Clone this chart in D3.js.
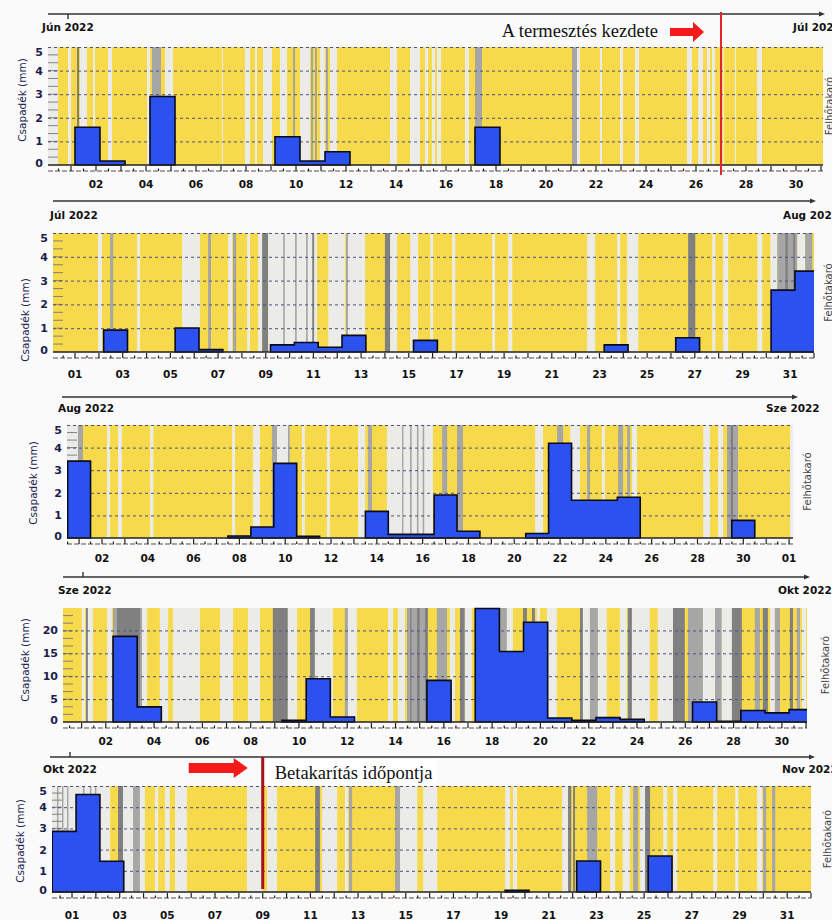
<!DOCTYPE html>
<html><head><meta charset="utf-8">
<script src="https://cdn.jsdelivr.net/npm/d3@7"></script>
<style>body{margin:0;background:#fff}svg{display:block}</style>
</head><body><svg id="c" width="832" height="920"></svg>
<script>
// ---------------- DATA ----------------
const MONTHS = ["Jún 2022", "Júl 2022", "Aug 2022", "Sze 2022", "Okt 2022"];
const NEXT_MONTHS = ["Júl 2022", "Aug 2022", "Sze 2022", "Okt 2022", "Nov 2022"];
const Y_TITLE = "Csapadék (mm)";
const CLOUD_TITLE = "Felhőtakaró";
const START_LABEL = "A termesztés kezdete";
const HARVEST_LABEL = "Betakarítás időpontja";
const START_DAY = 27;   // June 27
const HARVEST_DAY = 9;  // October 9

// Daily precipitation (mm): day of month, value
const JUN_DAYS = [1, 2, 4, 9, 10, 11, 17];
const JUN_RAIN = [1.6, 0.17, 2.9, 1.2, 0.17, 0.56, 1.6];
const JUL_DAYS = [2, 5, 6, 9, 10, 11, 12, 15, 23, 26, 30, 31];
const JUL_RAIN = [0.92, 1.01, 0.1, 0.3, 0.4, 0.2, 0.7, 0.49, 0.3, 0.6, 2.6, 3.4];
const AUG_DAYS = [0, 7, 8, 9, 10, 13, 14, 15, 16, 17, 20, 21, 22, 23, 24, 29];
const AUG_RAIN = [3.4, 0.09, 0.49, 3.3, 0.08, 1.18, 0.16, 0.16, 1.9, 0.3, 0.2, 4.19, 1.67, 1.67, 1.8, 0.78];
const SEP_DAYS = [2, 3, 9, 10, 11, 15, 17, 18, 19, 20, 21, 22, 23, 26, 27, 28, 29, 30];
const SEP_RAIN = [18.7, 3.3, 0.36, 9.45, 1.1, 9.1, 24.8, 15.4, 21.8, 0.87, 0.36, 0.95, 0.58, 4.36, 0.15, 2.5, 2.0, 2.7];
const OKT_DAYS = [0, 1, 2, 19, 22, 25];
const OKT_RAIN = [2.86, 4.6, 1.45, 0.08, 1.46, 1.7];

// Tick labels (day positions and texts)
const EVEN_DAYS = [2, 4, 6, 8, 10, 12, 14, 16, 18, 20, 22, 24, 26, 28, 30];
const ODD_DAYS = [1, 3, 5, 7, 9, 11, 13, 15, 17, 19, 21, 23, 25, 27, 29, 31];
const AUG_TICK_DAYS = [2, 4, 6, 8, 10, 12, 14, 16, 18, 20, 22, 24, 26, 28, 30, 32];
const AUG_TICK_LABELS = ["02","04","06","08","10","12","14","16","18","20","22","24","26","28","30","01"];
const Y_TICKS_SMALL = [0, 1, 2, 3, 4, 5];
const Y_TICKS_SEP = [0, 5, 10, 15, 20];

// Cloud cover stripes: [start day, end day, level] (1 light, 2 medium, 3 dark)
const JUN_CLOUD = [[0.08,0.48,1],[0.88,1.0,1],[1.24,1.32,3],[1.36,1.64,1],[1.88,1.96,1],[2.48,2.64,1],[4.04,4.16,1],[4.24,4.6,2],[4.76,5.08,1],[7.04,7.08,1],[7.96,8.16,1],[8.36,8.44,1],[8.68,9.04,1],[9.36,9.64,1],[9.88,9.96,2],[10.16,10.56,1],[10.6,10.68,2],[10.76,10.84,2],[10.96,11.16,1],[11.2,11.28,2],[11.36,11.64,1],[13.76,14.04,1],[14.56,14.96,1],[15.16,15.28,1],[15.44,15.56,1],[15.64,15.8,1],[16.76,16.92,1],[17.16,17.44,2],[21.04,21.24,2],[21.24,21.36,1],[22.16,22.24,1],[22.96,23.08,1],[23.56,23.72,1],[25.64,25.84,1],[26.08,26.28,1],[26.44,26.56,1],[26.64,26.76,1],[27.08,27.12,1],[27.56,27.6,1],[28.44,28.64,1]];
const JUL_CLOUD = [[1.96,2.13,1],[2.47,2.6,2],[3.6,3.73,1],[5.49,6.24,1],[6.58,6.7,2],[7.42,7.59,1],[7.63,7.76,2],[8.22,8.34,1],[8.68,8.85,1],[8.85,9.1,3],[9.1,11.15,1],[9.73,9.8,2],[10.23,10.3,2],[10.69,10.76,2],[10.95,11.03,3],[11.62,12.33,1],[12.37,12.45,2],[12.45,13.17,1],[14.0,14.22,3],[14.22,14.51,1],[15.06,15.39,1],[15.9,16.02,1],[16.82,16.95,1],[18.5,18.62,1],[19.17,19.34,1],[22.48,22.82,1],[23.74,23.87,1],[24.16,24.63,1],[26.72,27.02,3],[27.73,27.86,1],[28.19,28.4,1],[29.62,29.83,1],[30.17,30.46,1],[30.46,31.3,2],[30.8,30.9,3],[31.13,31.21,3],[31.3,31.63,1],[31.63,31.93,2]];
const AUG_CLOUD = [[0.47,0.95,1],[0.95,1.17,2],[2.22,2.35,1],[2.7,2.87,1],[4.1,4.24,1],[7.68,7.81,1],[8.59,8.9,1],[9.42,9.64,2],[9.64,10.2,1],[10.12,10.2,2],[10.73,10.86,1],[11.82,11.95,1],[13.18,13.49,1],[13.62,13.79,2],[14.44,16.45,1],[15.1,15.16,2],[15.45,15.52,2],[15.75,15.82,2],[16.0,16.07,2],[16.85,17.07,2],[17.5,17.76,2],[20.91,21.26,1],[21.87,22.13,2],[22.44,22.87,1],[23.18,23.31,2],[23.83,23.96,1],[24.53,24.75,2],[24.93,25.06,2],[25.14,25.36,1],[28.25,28.55,1],[28.9,29.12,1],[29.29,29.77,2],[29.45,29.55,3],[32.04,32.17,1]];
const SEP_CLOUD = [[1.01,1.14,1],[1.18,1.26,3],[1.26,1.47,1],[2.05,2.26,1],[2.3,3.5,2],[2.46,3.42,3],[3.5,3.71,1],[4.24,4.58,1],[4.78,5.9,1],[6.73,7.27,1],[7.89,8.39,1],[8.92,9.54,3],[9.54,9.92,1],[10.46,10.66,3],[10.66,11.41,1],[11.9,12.03,2],[12.03,12.4,1],[13.69,13.9,1],[14.1,14.39,1],[14.47,15.22,2],[14.6,14.66,3],[14.89,15.0,3],[15.22,15.34,3],[15.71,16.13,2],[16.25,16.46,1],[16.67,16.87,3],[16.87,17.16,1],[18.24,18.61,2],[18.61,18.86,1],[19.28,19.44,3],[19.65,19.77,3],[19.85,19.98,1],[20.27,20.68,1],[21.64,21.76,3],[21.76,22.05,1],[22.05,22.38,2],[22.38,22.75,1],[23.29,23.58,1],[23.62,23.79,3],[23.79,24.53,1],[24.86,25.49,1],[25.49,25.98,3],[26.11,26.73,2],[26.73,27.23,1],[27.23,27.51,2],[27.51,27.93,1],[27.93,28.34,3],[28.88,29.09,2],[29.21,29.42,3],[29.51,29.71,1],[29.71,29.92,2],[30.33,30.46,3],[30.62,30.75,2],[30.83,31.0,1]];
const OKT_CLOUD = [[0.08,1.0,1],[0.37,0.43,2],[0.58,0.64,2],[0.79,0.85,2],[1.0,1.33,1],[1.33,2.05,1],[1.46,1.52,2],[1.75,1.81,2],[1.96,2.02,2],[2.05,2.6,1],[2.93,3.14,3],[3.14,3.56,1],[3.56,3.85,2],[3.85,4.06,1],[4.48,4.61,1],[4.9,5.1,1],[5.32,5.82,1],[8.34,9.0,1],[9.18,9.6,1],[11.2,11.4,3],[11.49,12.12,1],[12.45,12.58,1],[12.62,12.75,2],[14.55,14.76,2],[14.76,15.48,1],[15.73,16.32,1],[19.17,19.38,1],[19.5,19.67,1],[21.56,21.81,1],[21.81,21.94,3],[22.02,22.1,3],[22.61,23.03,2],[23.57,23.78,1],[24.1,24.4,1],[24.54,24.75,2],[24.83,25.04,1],[25.04,25.25,3],[25.8,25.97,1],[26.22,26.39,1],[27.9,28.06,1],[28.82,28.95,1],[29.74,29.95,1],[29.99,30.12,2],[30.37,30.5,2]];

// ---------------- LAYOUT ----------------
const LAYOUT = [
  {left:48, right:823, top:47,  base:165, d0:0.08,  d1:31.08, ymax:5,    off:0.16, lineY:14,  lineX0:48, lineX1:822, tickX:68, tickUp:false, monthX:42, monthY:31,  nextX:793, titleX:22, titleY:100, cloudX:829, labelY:188},
  {left:53, right:814, top:233, base:352, d0:0.075, d1:32.0,  ymax:5,    off:0.2,  lineY:201, lineX0:53, lineX1:813, tickX:null, tickUp:true, monthX:50, monthY:219, nextX:783, titleX:25, titleY:320, cloudX:828, labelY:378},
  {left:67, right:793, top:425, base:538, d0:0.472, d1:32.17, ymax:5,    off:0.5,  lineY:397, lineX0:62, lineX1:795, tickX:null, tickUp:true, monthX:58, monthY:412, nextX:766, titleX:33, titleY:483, cloudX:807, labelY:562},
  {left:63, right:807, top:608, base:722, d0:0.228, d1:31.04, ymax:24.9, off:0.3,  lineY:577, lineX0:63, lineX1:807, tickX:83, tickUp:true, monthX:58, monthY:594, nextX:778, titleX:25, titleY:660, cloudX:825, labelY:745},
  {left:52, right:811, top:786, base:892, d0:0.16,  d1:32.0,  ymax:5,    off:0.17, lineY:757, lineX0:50, lineX1:812, tickX:70, tickUp:true, monthX:43, monthY:773, nextX:782, titleX:20, titleY:841, cloudX:827, labelY:919}
];

const PANELS = [
  {days:JUN_DAYS, rain:JUN_RAIN, cloud:JUN_CLOUD, tickDays:EVEN_DAYS, tickLabels:EVEN_DAYS.map(d3.format("02d")), yTicks:Y_TICKS_SMALL},
  {days:JUL_DAYS, rain:JUL_RAIN, cloud:JUL_CLOUD, tickDays:ODD_DAYS, tickLabels:ODD_DAYS.map(d3.format("02d")), yTicks:Y_TICKS_SMALL},
  {days:AUG_DAYS, rain:AUG_RAIN, cloud:AUG_CLOUD, tickDays:AUG_TICK_DAYS, tickLabels:AUG_TICK_LABELS, yTicks:Y_TICKS_SMALL},
  {days:SEP_DAYS, rain:SEP_RAIN, cloud:SEP_CLOUD, tickDays:EVEN_DAYS, tickLabels:EVEN_DAYS.map(d3.format("02d")), yTicks:Y_TICKS_SEP},
  {days:OKT_DAYS, rain:OKT_RAIN, cloud:OKT_CLOUD, tickDays:ODD_DAYS, tickLabels:ODD_DAYS.map(d3.format("02d")), yTicks:Y_TICKS_SMALL}
];

const CLOUD_COLORS = {1:"#ebebe7", 2:"#a6a6a6", 3:"#808080"};
const YELLOW = "#f6da4c";
const BLUE = "#2b52ef";
const SANS = "'DejaVu Sans', Verdana, sans-serif";
const SERIF = "'Liberation Serif', 'Times New Roman', serif";

const svg = d3.select("#c");
svg.append("rect").attr("width",832).attr("height",920).attr("fill","#fafafa");

function runs(days, vals){
  const out=[]; let cur=null;
  days.forEach((d,i)=>{
    if(cur && d===cur[cur.length-1][0]+1) cur.push([d, vals[i]]);
    else { cur=[[d, vals[i]]]; out.push(cur); }
  });
  return out;
}

const scales = [];
PANELS.forEach((p, i) => {
  const L = LAYOUT[i];
  const x = d3.scaleLinear().domain([L.d0, L.d1]).range([L.left, L.right]);
  const y = d3.scaleLinear().domain([0, L.ymax]).range([L.base, L.top]);
  scales.push({x, y});
  const g = svg.append("g");

  // top time axis line with arrow
  g.append("line").attr("x1",L.lineX0).attr("x2",L.lineX1).attr("y1",L.lineY).attr("y2",L.lineY)
    .attr("stroke","#333").attr("stroke-width",1.4);
  g.append("path").attr("d",`M${L.lineX1+3},${L.lineY} l-6,-2.5 l0,5 Z`).attr("fill","#333");
  if (L.tickX !== null) {
    g.append("line").attr("x1",L.tickX).attr("x2",L.tickX)
      .attr("y1",L.lineY).attr("y2",L.tickUp ? L.lineY-5 : L.lineY+5)
      .attr("stroke","#333").attr("stroke-width",1.4);
  }
  // month labels
  g.append("text").attr("x",L.monthX).attr("y",L.monthY).text(MONTHS[i])
    .attr("font-family",SANS).attr("font-weight","bold").attr("font-size",10.5).attr("fill","#111");
  g.append("text").attr("x",L.nextX).attr("y",L.monthY).text(NEXT_MONTHS[i])
    .attr("font-family",SANS).attr("font-weight","bold").attr("font-size",10.5).attr("fill","#111");

  // clip
  const cid = "clip"+i;
  svg.append("clipPath").attr("id",cid).append("rect")
    .attr("x",L.left).attr("y",L.top-1).attr("width",L.right-L.left).attr("height",L.base-L.top+2);
  const pg = g.append("g").attr("clip-path",`url(#${cid})`);

  // yellow (clear sky) background
  pg.append("rect").attr("x",L.left).attr("y",L.top).attr("width",L.right-L.left).attr("height",L.base-L.top).attr("fill",YELLOW);
  // cloud stripes
  pg.selectAll("rect.cl").data(p.cloud).join("rect").attr("class","cl")
    .attr("x",d=>x(d[0])).attr("width",d=>Math.max(1, x(d[1])-x(d[0])))
    .attr("y",L.top).attr("height",L.base-L.top).attr("fill",d=>CLOUD_COLORS[d[2]]);

  // y ruler minor ticks
  const nr = 15;
  pg.selectAll("line.rl").data(d3.range(1, nr)).join("line").attr("class","rl")
    .attr("x1",L.left).attr("x2",L.left+10)
    .attr("y1",k=>L.base-(L.base-L.top)*k/nr).attr("y2",k=>L.base-(L.base-L.top)*k/nr)
    .attr("stroke","#777").attr("stroke-width",0.9);

  // gridlines
  const grid = p.yTicks.filter(v=>v>0);
  pg.selectAll("line.gr").data(grid).join("line").attr("class","gr")
    .attr("x1",L.left).attr("x2",L.right).attr("y1",v=>y(v)+0.5).attr("y2",v=>y(v)+0.5)
    .attr("stroke","#4b5280").attr("stroke-width",1).attr("stroke-dasharray","3,3");

  // precipitation step bars
  const area = d3.area().curve(d3.curveStepAfter)
    .x(d=>x(d[0])).y0(y(0)).y1(d=>y(d[1]));
  runs(p.days, p.rain).forEach(r=>{
    const pts = r.map(d=>[d[0]+L.off, d[1]]);
    const last = r[r.length-1];
    pts.push([last[0]+1+L.off, last[1]]);
    pg.append("path").attr("d",area(pts)).attr("fill",BLUE).attr("stroke","#0a0a1a").attr("stroke-width",1.6).attr("stroke-linejoin","miter");
  });

  // baseline
  g.append("line").attr("x1",L.left).attr("x2",L.right).attr("y1",L.base).attr("y2",L.base)
    .attr("stroke","#222").attr("stroke-width",1.3);

  // y labels
  g.selectAll("text.yl").data(p.yTicks).join("text").attr("class","yl")
    .attr("x",L.left-5).attr("y",v=>Math.min(L.base-2, Math.max(L.top+5, y(v)))).attr("dy","0.36em")
    .attr("text-anchor","end").attr("font-family",SANS).attr("font-weight","bold").attr("font-size",11)
    .attr("fill","#1d1d4d").text(v=>v);
  // y title
  g.append("text").attr("transform",`translate(${L.titleX},${L.titleY}) rotate(-90)`)
    .attr("text-anchor","middle").attr("dy","0.35em").attr("font-family",SANS).attr("font-size",10.5)
    .attr("fill","#23234d").text(Y_TITLE);
  // cloud title
  g.append("text").attr("transform",`translate(${L.cloudX},${(L.top+L.base)/2}) rotate(-90)`)
    .attr("text-anchor","middle").attr("dy","0.35em").attr("font-family",SANS).attr("font-size",10)
    .attr("fill","#444").text(CLOUD_TITLE);

  // bottom axis (dashed) with ticks
  const ay = L.base + 6;
  g.append("line").attr("x1",L.left).attr("x2",L.right).attr("y1",ay).attr("y2",ay)
    .attr("stroke","#5a4a40").attr("stroke-width",1).attr("stroke-dasharray","5,2");
  const halfTicks = d3.range(Math.ceil(L.d0*2), Math.floor(L.d1*2)+1).map(k=>k/2);
  g.selectAll("line.xt").data(halfTicks).join("line").attr("class","xt")
    .attr("x1",d=>x(d)).attr("x2",d=>x(d))
    .attr("y1",ay).attr("y2",d=>Number.isInteger(d) ? ay-5 : ay-2.5)
    .attr("stroke","#222").attr("stroke-width",1.2);
  g.selectAll("text.xl").data(p.tickDays).join("text").attr("class","xl")
    .attr("x",d=>x(d)).attr("y",L.labelY).attr("text-anchor","middle")
    .attr("font-family",SANS).attr("font-weight","bold").attr("font-size",10.5).attr("fill","#111")
    .text((d,k)=>p.tickLabels[k]);
});

// ---------------- ANNOTATIONS ----------------
{
  const L = LAYOUT[0], xs = scales[0].x(START_DAY);
  svg.append("line").attr("x1",xs).attr("x2",xs).attr("y1",12).attr("y2",L.base+10)
    .attr("stroke","#e3262a").attr("stroke-width",2);
  const tip = xs-17, tail = xs-51, cy = 32;
  svg.append("path").attr("d",`M${tail},${cy-4} H${tip-11} V${cy-10} L${tip},${cy} L${tip-11},${cy+10} V${cy+4} H${tail} Z`).attr("fill","#f5191a");
  svg.append("text").attr("x",658).attr("y",37).attr("text-anchor","end")
    .attr("font-family",SERIF).attr("font-size",18.5).attr("fill","#111").text(START_LABEL);
}
{
  const L = LAYOUT[4], xs = scales[4].x(HARVEST_DAY);
  svg.append("rect").attr("x",xs+4).attr("y",759).attr("width",170).attr("height",26).attr("fill","#fff");
  svg.append("line").attr("x1",xs).attr("x2",xs).attr("y1",757).attr("y2",L.base-3)
    .attr("stroke","#a8101a").attr("stroke-width",3);
  const tip = xs-15, tail = xs-74, cy = 768;
  svg.append("path").attr("d",`M${tail},${cy-5} H${tip-14} V${cy-10} L${tip},${cy} L${tip-14},${cy+10} V${cy+5} H${tail} Z`).attr("fill","#f5191a");
  svg.append("text").attr("x",xs+12).attr("y",779)
    .attr("font-family",SERIF).attr("font-size",18.5).attr("fill","#111").text(HARVEST_LABEL);
}
</script></body></html>
